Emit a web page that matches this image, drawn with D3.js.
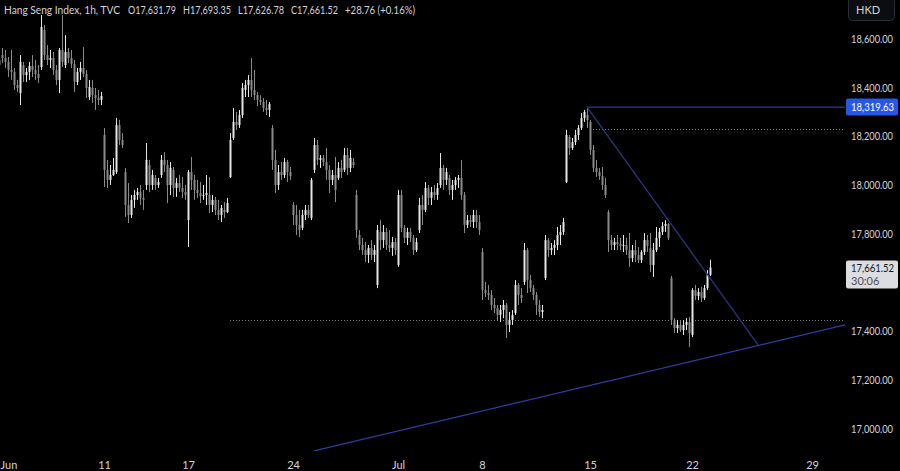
<!DOCTYPE html>
<html><head><meta charset="utf-8">
<script src="https://cdn.jsdelivr.net/npm/d3@7"></script>
<style>html,body{margin:0;padding:0;background:#000;overflow:hidden}svg{display:block}</style>
</head><body><svg id="c" width="900" height="471"></svg>
<script>
const opens = [
18513,18533,18521,18505,18472,18464,18410,18377,18492,18451,
18464,18488,18472,18455,18484,18636,18533,18513,18521,18472,
18431,18554,18492,18546,18521,18496,18423,18464,18480,18455,
18361,18398,18369,18357,18349,18205,18062,18021,18041,18053,
18246,18185,18053,17918,17877,17939,17959,17971,17947,18000,
18082,18000,18029,18000,18041,18103,18082,18000,18062,17988,
18008,17988,17971,17856,18053,18021,17980,17967,17955,17959,
17959,17918,17939,17898,17877,17898,17889,18033,18193,18259,
18246,18287,18390,18410,18431,18390,18369,18349,18341,18316,
18308,18234,18103,18000,18053,18041,18094,18053,17918,17877,
17836,17824,17877,17898,17865,18062,18164,18103,18111,18094,
18062,18021,18041,18029,18070,18062,18123,18070,18094,17959,
17795,17754,17733,17713,17742,17713,17590,17807,17774,17807,
17754,17742,17766,17672,17959,17824,17783,17807,17783,17733,
17815,17918,17898,17988,17947,17971,17959,18000,18070,18021,
18029,17980,18000,18021,18029,17959,17836,17856,17848,17877,
17848,17725,17569,17557,17549,17508,17495,17467,17487,17508,
17426,17446,17475,17590,17549,17602,17733,17610,17577,17549,
17508,17479,17618,17774,17733,17742,17754,17795,17807,18012,
18197,18152,18176,18205,18234,18275,18287,18259,18144,18070,
18053,18037,18000,17889,17774,17754,17766,17758,17750,17754,
17733,17700,17733,17713,17692,17725,17774,17742,17672,17733,
17783,17807,17832,17840,17618,17446,17413,17426,17405,17426,
17438,17385,17569,17545,17561,17536,17577,17631.79];
const highs = [
18566,18562,18554,18525,18554,18480,18431,18533,18505,18480,
18505,18533,18513,18492,18697,18656,18574,18554,18546,18492,
18562,18697,18615,18562,18554,18513,18480,18505,18566,18472,
18431,18431,18398,18390,18382,18234,18103,18082,18111,18275,
18267,18213,18070,18008,17959,17980,17988,18000,17980,18172,
18103,18062,18041,18029,18123,18135,18103,18094,18074,18029,
18041,18033,18000,18062,18115,18041,18021,18012,18000,18041,
18033,17959,17951,17939,17918,17930,17947,18213,18316,18300,
18308,18418,18431,18451,18521,18472,18382,18369,18357,18349,
18341,18246,18144,18082,18094,18111,18103,18074,17930,17918,
17898,17898,17918,17918,18029,18193,18185,18123,18123,18152,
18082,18062,18115,18094,18103,18152,18152,18144,18111,17980,
17815,17783,17766,17754,17774,17754,17836,17856,17836,17824,
17815,17787,17783,17980,17980,17836,17824,17824,17795,17783,
17947,17959,18012,18000,17992,18000,18008,18131,18082,18070,
18041,18021,18033,18041,18103,17971,17877,17877,17898,17898,
17877,17742,17602,17590,17569,17536,17508,17508,17528,17516,
17479,17487,17610,17598,17577,17762,17742,17631,17590,17561,
17528,17508,17795,17783,17762,17774,17828,17836,17865,18226,
18205,18193,18226,18246,18295,18308,18319.63,18267,18164,18103,
18070,18074,18029,17898,17795,17783,17795,17783,17795,17783,
17803,17754,17774,17746,17733,17803,17795,17803,17762,17828,
17824,17848,17856,17844,17627,17454,17446,17446,17446,17454,
17459,17577,17590,17577,17582,17590,17651,17693.35];
const lows = [
18279,18500,18480,18443,18431,18390,18382,18328,18423,18423,
18431,18443,18431,18418,18472,18513,18492,18480,18451,18410,
18377,18484,18480,18500,18480,18382,18410,18431,18443,18357,
18349,18336,18308,18328,18328,17992,17988,18000,18037,18045,
18164,18152,17869,17844,17865,17906,17939,17918,17898,17980,
17971,17980,17980,17988,18029,18053,17926,17959,17951,17951,
17971,17947,17939,17746,17980,17939,17947,17926,17939,17918,
17885,17889,17877,17856,17848,17865,17885,18029,18185,18226,
18234,18275,18361,18361,18361,18349,18324,18328,18300,18287,
18279,18062,17967,17980,18021,18029,18012,18021,17836,17795,
17787,17815,17856,17865,17856,18049,18082,18070,18078,18021,
17967,18000,17930,18021,18029,18053,18041,18053,18070,17783,
17733,17713,17684,17680,17692,17684,17577,17733,17742,17733,
17725,17709,17713,17664,17807,17762,17754,17766,17713,17725,
17803,17836,17889,17918,17918,17939,17939,17988,17980,18000,
17959,17939,17980,17988,17939,17803,17824,17828,17824,17824,
17795,17528,17540,17528,17487,17475,17446,17438,17454,17372,
17397,17426,17467,17508,17516,17590,17557,17561,17528,17467,
17459,17454,17610,17705,17713,17713,17733,17754,17795,18008,
18123,18144,18164,18185,18226,18259,18234,18123,18053,18033,
18021,17980,17947,17725,17733,17733,17733,17733,17725,17713,
17664,17684,17684,17680,17680,17713,17725,17643,17623,17725,
17746,17795,17807,17774,17426,17393,17393,17397,17385,17405,
17335,17376,17528,17528,17520,17528,17569,17626.78];
const closes = [
18492,18521,18505,18472,18464,18410,18398,18505,18451,18464,
18488,18472,18455,18439,18648,18533,18513,18521,18472,18431,
18554,18505,18546,18521,18496,18423,18464,18480,18455,18398,
18402,18369,18357,18349,18365,18062,18021,18041,18062,18246,
18185,18164,17918,17877,17939,17959,17971,17947,17939,18103,
18000,18041,18000,18012,18103,18082,18000,18070,17988,18008,
17988,17971,17959,18053,18021,17980,17967,17955,17959,17967,
17918,17939,17898,17877,17906,17889,17926,18185,18259,18246,
18287,18398,18410,18431,18390,18369,18349,18341,18316,18308,
18332,18103,18000,18053,18041,18094,18053,18037,17877,17836,
17815,17877,17898,17877,18021,18164,18103,18111,18094,18062,
18021,18041,17980,18070,18053,18123,18070,18111,18082,17815,
17754,17733,17713,17742,17713,17733,17815,17774,17807,17754,
17742,17766,17733,17959,17824,17783,17807,17783,17733,17766,
17918,17898,17988,17947,17971,17959,17988,18070,18021,18053,
17980,18000,18021,18029,17959,17836,17856,17848,17877,17848,
17815,17569,17557,17549,17508,17495,17467,17487,17508,17426,
17446,17467,17590,17549,17536,17733,17610,17577,17549,17508,
17479,17487,17774,17733,17742,17754,17795,17807,17848,18205,
18152,18176,18205,18234,18275,18300,18267,18144,18070,18053,
18037,18000,17959,17774,17754,17766,17758,17750,17754,17733,
17700,17733,17713,17692,17725,17774,17750,17672,17733,17783,
17807,17832,17840,17783,17446,17413,17426,17405,17426,17438,
17393,17569,17545,17561,17536,17577,17631,17661.52];

// time axis: bar index of each label
const xTickIndex = [0, 35, 63, 98, 133, 161, 197, 231, 271];
const xTickLabels = ["Jun", "11", "17", "24", "Jul", "8", "15", "22", "29"];
const priceTicks = [17000, 17200, 17400, 17800, 18000, 18200, 18400, 18600];

// drawings (bar index, price)
const risingLine = [[105, 16909], [282, 17426]];
const fallingLine = [[196, 18319.63], [253, 17344]];
const highLevel = {from: 196, price: 18319.63};
const dottedLevels = [{from: 197, price: 18230}, {from: 77, price: 17446}];
const lastPrice = 17661.52;
const countdown = "30:06";
const titleParts = ["Hang Seng Index, 1h, TVC", "O17,631.79", "H17,693.35", "L17,626.78", "C17,661.52", "+28.76 (+0.16%)"];

const FONT = "Lato, 'Open Sans', sans-serif";
const svg = d3.select("#c");
const plotRight = 845;
const x = d3.scaleLinear().domain([0, 282]).range([-1, plotRight]);
const y = d3.scaleLinear().domain([17000, 18600]).range([428.75, 38.75]);
const fmt = d3.format(",.2f");

svg.append("rect").attr("width", 900).attr("height", 471).attr("fill", "#000");

svg.append("clipPath").attr("id","clipPlot").append("rect").attr("x",0).attr("y",0).attr("width",plotRight).attr("height",456);
const pg = svg.append("g").attr("clip-path","url(#clipPlot)");

// dotted levels
dottedLevels.forEach(d => {
  pg.append("line").attr("x1", x(d.from)).attr("x2", plotRight)
    .attr("y1", Math.round(y(d.price)) + 0.5).attr("y2", Math.round(y(d.price)) + 0.5)
    .attr("stroke", "#7d7f86").attr("stroke-width", 1).attr("stroke-dasharray", "1,2");
});

// candles
const candles = pg.append("g");
closes.forEach((c, i) => {
  const o = opens[i], h = highs[i], l = lows[i];
  const up = c >= o;
  const col = up ? "#e6e6e6" : "#8a8a8a";
  const cx = Math.round(x(i));
  candles.append("rect").attr("x", cx).attr("width", 1)
    .attr("y", y(h)).attr("height", Math.max(1, y(l) - y(h))).attr("fill", col);
  const top = y(Math.max(o, c)), bot = y(Math.min(o, c));
  candles.append("rect").attr("x", cx - 0.5).attr("width", 2)
    .attr("y", top).attr("height", Math.max(1, bot - top)).attr("fill", col);
});

// trend lines
const lineGen = d3.line().x(d => x(d[0])).y(d => y(d[1]));
pg.append("path").attr("d", lineGen(risingLine)).attr("fill", "none").attr("stroke", "#2f3da0").attr("stroke-width", 1.3);
pg.append("path").attr("d", lineGen(fallingLine)).attr("fill", "none").attr("stroke", "#2a357f").attr("stroke-width", 1.3);
pg.append("line").attr("x1", x(highLevel.from)).attr("x2", plotRight)
  .attr("y1", y(highLevel.price)).attr("y2", y(highLevel.price))
  .attr("stroke", "#2d3a95").attr("stroke-width", 1.3);

// right price axis
const yAxis = d3.axisRight(y).tickValues(priceTicks).tickSize(0).tickPadding(0).tickFormat(fmt);
const ya = svg.append("g").attr("transform", `translate(851,0)`).call(yAxis);
ya.select(".domain").remove();
ya.selectAll("text").attr("fill", "#d1d4dc").attr("font-family", FONT).attr("font-size", 11)
  .attr("textLength", 42).attr("lengthAdjust", "spacingAndGlyphs");

// high level label
const hy = y(highLevel.price);
svg.append("rect").attr("x", 846).attr("y", hy - 8.5).attr("width", 52).attr("height", 17).attr("rx", 2).attr("fill", "#2757e6");
svg.append("text").attr("x", 851).attr("y", hy + 4).attr("fill", "#ffffff")
  .attr("font-family", FONT).attr("font-size", 11).attr("textLength", 43).attr("lengthAdjust", "spacingAndGlyphs")
  .text(fmt(highLevel.price));

// last price label
const ly = y(lastPrice);
svg.append("rect").attr("x", 846).attr("y", ly - 7).attr("width", 52).attr("height", 28).attr("rx", 2).attr("fill", "#dcdde0");
svg.append("text").attr("x", 851).attr("y", ly + 4.5).attr("fill", "#131722")
  .attr("font-family", FONT).attr("font-size", 11).attr("textLength", 43).attr("lengthAdjust", "spacingAndGlyphs")
  .text(fmt(lastPrice));
svg.append("text").attr("x", 851).attr("y", ly + 17).attr("fill", "#4a4e5a")
  .attr("font-family", FONT).attr("font-size", 11).text(countdown);

// currency box
svg.append("rect").attr("x", 848.5).attr("y", -3.5).attr("width", 46).attr("height", 24).attr("rx", 4)
  .attr("fill", "#0c0d10").attr("stroke", "#2a2e39");
svg.append("text").attr("x", 856).attr("y", 14).attr("fill", "#d1d4dc")
  .attr("font-family", FONT).attr("font-size", 11).text("HKD");

// bottom time axis
const xAxis = d3.axisBottom(x).tickValues(xTickIndex).tickSize(0).tickPadding(0)
  .tickFormat((d, i) => xTickLabels[i]);
const xa = svg.append("g").attr("transform", "translate(0,461)").call(xAxis);
xa.select(".domain").remove();
xa.selectAll("text").attr("fill", "#d1d4dc").attr("font-family", FONT).attr("font-size", 11);
xa.selectAll("text").filter((d, i) => i === 0).attr("text-anchor", "start").attr("x", 1);

// title
const titleX = [4, 128, 183, 238, 291, 345];
const titleW = [116, 48, 48, 46, 47, 70];
const tg = svg.append("g");
titleParts.forEach((t, i) => {
  tg.append("text").attr("x", titleX[i]).attr("y", 14).attr("fill", "#d1d4dc")
    .attr("font-family", FONT).attr("font-size", 11)
    .attr("textLength", titleW[i]).attr("lengthAdjust", "spacingAndGlyphs").text(t);
});
</script>
</body></html>
